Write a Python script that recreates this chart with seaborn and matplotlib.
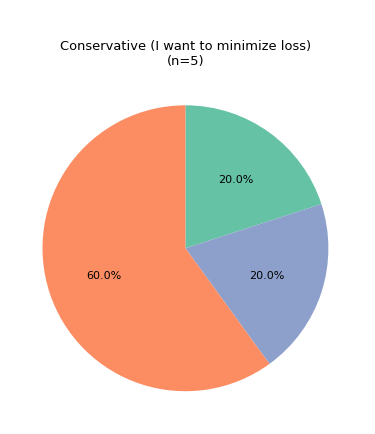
import matplotlib
matplotlib.use('Agg')
import matplotlib.pyplot as plt
import seaborn as sns

# data
categories = ['Option A', 'Option B', 'Option C']
counts = [1, 1, 3]
title = 'Conservative (I want to minimize loss)\n(n=5)'

palette = sns.color_palette('Set2')
colors = [palette[0], palette[2], palette[1]]

fig = plt.figure(figsize=(3.75, 4.35), dpi=100)
ax = fig.add_axes([0.018, 0.016, 0.953, 0.822])
ax.pie(counts, colors=colors, autopct='%1.1f%%', startangle=90,
       counterclock=False, textprops={'fontsize': 8})
ax.set_aspect('equal')
ax.set_title(title, fontsize=9.4, pad=4)
fig.savefig('out.png', dpi=100)
